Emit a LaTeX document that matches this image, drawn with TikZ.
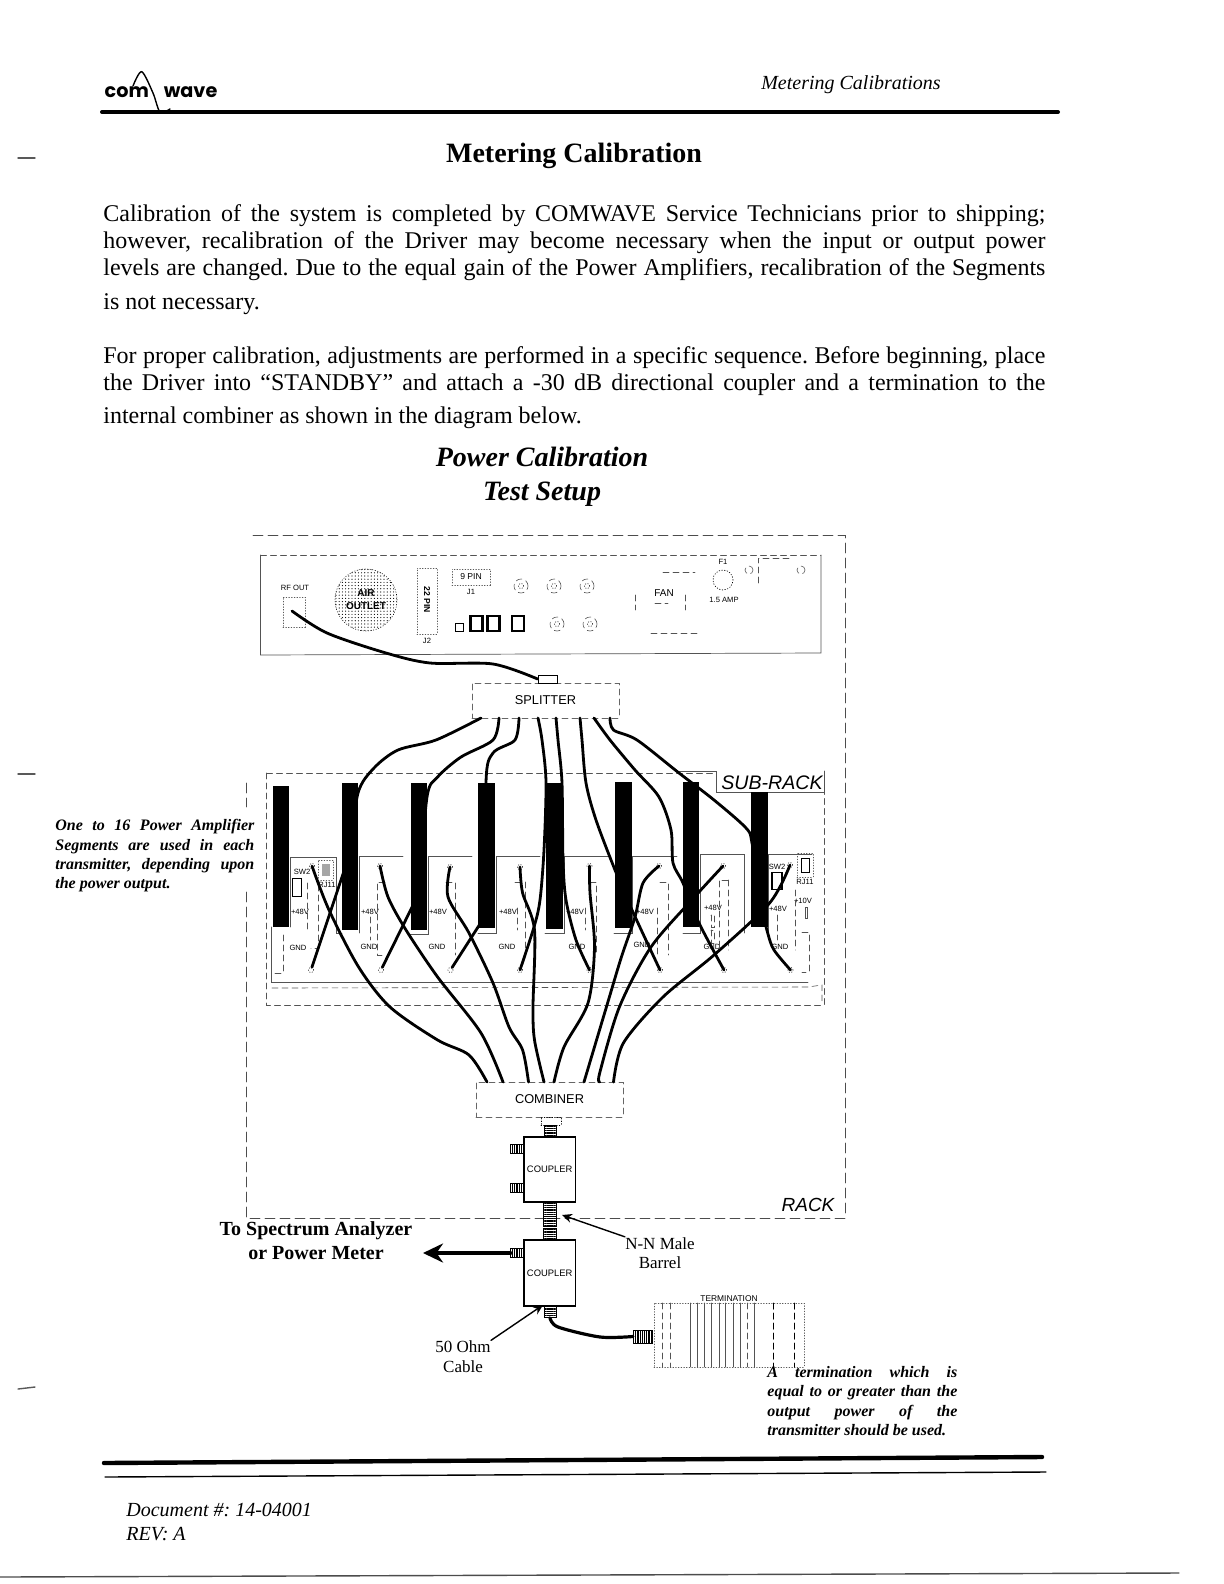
\documentclass[tikz,border=0pt]{standalone}
\usepackage{fontspec}
\setmainfont{Liberation Serif}
\setsansfont{Liberation Sans}
\newfontfamily\logofont{Poppins}
\usepackage{tikz}
\usetikzlibrary{arrows.meta,patterns.meta}
\usepackage{xcolor}
\newcommand{\fullline}[1]{\hbox to 471pt{#1}}
\newcommand{\noteline}[2]{\hbox to #1{#2}}
\frenchspacing

\begin{document}
\begin{tikzpicture}[x=0.5pt,y=-0.5pt,>={Stealth[length=5pt,width=4.5pt]},line cap=round,
  bodyline/.style={anchor=base west,inner sep=0pt,font=\fontsize{12}{14}\selectfont},
  notetext/.style={anchor=north west,inner sep=0pt,align=left,font=\fontsize{8}{9.7}\selectfont\bfseries\itshape},
  callout/.style={inner sep=0pt,align=center,font=\fontsize{8.5}{9.8}\selectfont},
  panelfont/.style={inner sep=0pt,font=\sffamily\fontsize{3.8}{4.5}\selectfont},
  unitbox/.style={draw,gray!80!black,densely dashed,line width=0.35pt,text=black,inner sep=0pt,font=\sffamily\fontsize{6.4}{7}\selectfont},
  couplerbox/.style={draw,line width=0.7pt,inner sep=0pt,minimum width=25.7pt,font=\sffamily\fontsize{4.7}{5}\selectfont},
  fitting/.style={draw,line width=0.4pt,inner sep=0pt,pattern={Lines[angle=0,distance=1.1pt,line width=0.55pt]}},
  sidefitting/.style={draw,line width=0.4pt,inner sep=0pt,minimum width=6.7pt,minimum height=4.5pt,pattern={Lines[angle=90,distance=1.1pt,line width=0.55pt]}},
  slotbar/.style={fill=black,inner sep=0pt},
  lug/.style={circle,draw,densely dotted,line width=0.3pt,fill=white,inner sep=0pt,minimum size=2.6pt},
  cable/.style={line width=1.4pt},
  jack/.style={draw,fill=white,line width=1.1pt,inner sep=0pt,minimum width=6pt,minimum height=7.5pt},
  bnc/.style={circle,draw,gray!70!black,densely dashed,line width=0.3pt,inner sep=0pt,minimum size=7pt},
  dimbox/.style={draw,gray!70!black,densely dotted,line width=0.35pt,inner sep=0pt,text=black},
  rackline/.style={gray!60!black,line width=0.4pt,dash pattern=on 5pt off 2.5pt},
  subline/.style={gray!65!black,line width=0.35pt},
  faintline/.style={gray!65!black,line width=0.3pt,densely dashed}]
\useasboundingbox (0,0) rectangle (1224,1584);

\node[inner sep=0pt,font=\logofont\bfseries\fontsize{9.6}{11}\selectfont] (logo) at (161,92) {com\hspace{7.5pt}wave};
\draw[line width=0.7pt] plot[smooth] coordinates {(133,86) (141.7,71.7) (153,93) (160,112) (170,109)};
\draw[line width=2pt] (102,112) -- (1058,112);
\node[inner sep=0pt,font=\fontsize{10}{12}\selectfont\itshape] (runhead) at (851,85) {Metering Calibrations};
\node[inner sep=0pt,font=\fontsize{14}{16}\selectfont\bfseries] (title) at (574,156) {Metering Calibration};

\node[bodyline] (introa) at (103,221) {\fullline{Calibration of the system is completed by COMWAVE Service Technicians prior to shipping;}};
\node[bodyline] (introb) at (103,248) {\fullline{however, recalibration of the Driver may become necessary when the input or output power}};
\node[bodyline] (introc) at (103,275) {\fullline{levels are changed. Due to the equal gain of the Power Amplifiers, recalibration of the Segments}};
\node[bodyline] (introd) at (103,309) {is not necessary.};
\node[bodyline] (propera) at (103,363) {\fullline{For proper calibration, adjustments are performed in a specific sequence. Before beginning, place}};
\node[bodyline] (properb) at (103,390) {\fullline{the Driver into ``STANDBY'' and attach a -30 dB directional coupler and a termination to the}};
\node[bodyline] (properc) at (103,423) {internal combiner as shown in the diagram below.};

\node[inner sep=0pt,font=\fontsize{14}{16}\selectfont\bfseries\itshape] (headpower) at (542,457) {Power Calibration};
\node[inner sep=0pt,font=\fontsize{14}{16}\selectfont\bfseries\itshape] (headtest) at (542,494) {Test Setup};

\draw[rackline] (246,892) -- (246,1218) -- (845,1218) -- (845,535) -- (249,535);
\draw[rackline] (246,783) -- (246,807);
\node[inner sep=0pt,font=\sffamily\itshape\fontsize{9.5}{11}\selectfont] (racklabel) at (808,1205) {RACK};

\draw[subline] (260.5,555) -- (260.5,655) -- (821,653) -- (821,555);
\draw[faintline] (260.5,555) -- (821,555);
\node[panelfont] (rfout) at (295,588) {RF OUT};
\node[dimbox,minimum width=11pt,minimum height=15pt] (rfbox) at (294,612) {};
\node[circle,draw,line width=0.3pt,densely dotted,pattern={Dots[distance=1.6pt,radius=0.3pt]},minimum size=31pt,inner sep=0pt,align=center,font=\sffamily\bfseries\fontsize{5}{6.5}\selectfont] (outlet) at (366,600) {AIR\\OUTLET};
\node[dimbox,minimum width=10pt,minimum height=33pt] (pinstrip) at (427,601) {};
\node[rotate=-90,inner sep=0pt,font=\sffamily\bfseries\fontsize{4.3}{5}\selectfont] (pinstriptext) at (427,600) {22 PIN};
\node[panelfont] (jtwo) at (427,641) {J2};
\node[dimbox,minimum width=19pt,minimum height=8pt,font=\sffamily\fontsize{4.3}{5}\selectfont] (ninepin) at (471,577) {9 PIN};
\node[panelfont] (jone) at (471,592) {J1};
\node[bnc] (bnca) at (521,586) {};
\node[lug] (bncadot) at (521,586) {};
\node[bnc] (bncb) at (554,586) {};
\node[lug] (bncbdot) at (554,586) {};
\node[bnc] (bncc) at (587,586) {};
\node[lug] (bnccdot) at (587,586) {};
\node[bnc] (bncd) at (557,624) {};
\node[lug] (bncddot) at (557,624) {};
\node[bnc] (bnce) at (590,624) {};
\node[lug] (bncedot) at (590,624) {};
\node[draw,line width=0.4pt,minimum size=4pt,inner sep=0pt] (lamp) at (459.5,627.5) {};
\node[jack] (jacka) at (476.5,623.5) {};
\node[jack] (jackb) at (493.5,623.5) {};
\node[jack] (jackc) at (518,623.5) {};
\node[inner sep=0pt,font=\sffamily\fontsize{5}{6}\selectfont] (fan) at (664,593) {FAN};
\draw[faintline] (663,572) -- (695,572);
\draw[faintline] (651,633) -- (697,633);
\draw[faintline] (635,595) -- (635,610);
\draw[faintline] (685,595) -- (685,610);
\draw[faintline] (655,603) -- (668,603);
\node[panelfont] (fuse) at (723,562) {F1};
\node[circle,draw,densely dotted,line width=0.35pt,minimum size=10pt,inner sep=0pt] (fuseholder) at (723,580) {};
\node[panelfont] (fuseamp) at (724,600) {1.5 AMP};
\draw[faintline] (758,583) -- (758,558) -- (791,558);
\node[bnc,minimum size=4pt] (mainsa) at (749,570) {};
\node[bnc,minimum size=4pt] (mainsb) at (801,570) {};

\node[unitbox,minimum width=73.5pt,minimum height=17.5pt] (splitter) at (545.5,700.5) {SPLITTER};
\node[draw,line width=0.35pt,minimum width=9.5pt,minimum height=4pt,inner sep=0pt] (splitin) at (547.5,679) {};
\coordinate (rfend) at (292,611);
\draw[cable] plot[smooth] coordinates {(rfend) (327,633) (386,653) (430,663) (493,664) (splitin.west)};

\draw[faintline] (266.5,773) -- (266.5,1005) -- (824,1005) -- (824,792);
\draw[faintline] (266.5,773) -- (716,773);
\draw[subline] (679,771) -- (716,771) -- (716,792) -- (824,792) -- (824,771);
\node[inner sep=0pt,font=\sffamily\itshape\fontsize{9.8}{11}\selectfont] (subrack) at (772,783) {SUB-RACK};
\draw[subline] (271,927) -- (271,982) -- (808,982);
\draw[faintline] (272,988) -- (808,987) -- (822,985) -- (822,1001);
\draw[subline] (290,927) -- (290,857) -- (336,857) -- (336,933) -- (342,933);
\draw[subline] (359,933) -- (359,856) -- (403,856);
\draw[subline] (410,934) -- (428,934) -- (428,856) -- (472,856);
\draw[subline] (478,933) -- (496,933) -- (496,856) -- (540,856);
\draw[subline] (545,933) -- (564,933) -- (564,856) -- (609,856);
\draw[subline] (614,933) -- (632,933) -- (632,856) -- (677,856);
\draw[subline] (683,933) -- (700,933) -- (700,854) -- (744,854) -- (744,933);
\draw[subline] (768,933) -- (768,854) -- (812,854);

\node[panelfont] (swone) at (302,872) {SW2};
\node[dimbox,minimum width=7.5pt,minimum height=10pt] (rjone) at (325.5,870) {};
\node[fill=gray!70,minimum width=4pt,minimum height=6pt,inner sep=0pt] (rjonecore) at (325.5,870) {};
\node[panelfont] (rjonetext) at (327,885) {RJ11};
\node[draw,line width=0.9pt,fill=white,minimum width=4.5pt,minimum height=9pt,inner sep=0pt] (dipone) at (297,887.5) {};
\node[panelfont] (vone) at (300,912) {+48V};
\node[panelfont] (gndone) at (298,948) {GND};
\node[panelfont] (vtwo) at (370,912) {+48V};
\node[panelfont] (gndtwo) at (369,947) {GND};
\node[panelfont] (vthree) at (438,912) {+48V};
\node[panelfont] (gndthree) at (437,947) {GND};
\node[panelfont] (vfour) at (508,912) {+48V};
\node[panelfont] (gndfour) at (507,947) {GND};
\node[panelfont] (vfive) at (575,912) {+48V};
\node[panelfont] (gndfive) at (577,947) {GND};
\node[panelfont] (vsix) at (645,912) {+48V};
\node[panelfont] (gndsix) at (642,945) {GND};
\node[panelfont] (vseven) at (713,908) {+48V};
\node[panelfont] (gndseven) at (712,947) {GND};
\node[panelfont] (veight) at (778,909) {+48V};
\node[panelfont] (gndeight) at (780,947) {GND};
\node[panelfont] (sweight) at (777,867) {SW2};
\node[dimbox,minimum width=8pt,minimum height=12pt] (rjeight) at (805,865) {};
\node[draw,line width=0.3pt,minimum width=4pt,minimum height=7pt,inner sep=0pt] (rjeightcore) at (805,865) {};
\node[panelfont] (rjeighttext) at (805,882) {RJ11};
\node[draw,line width=0.9pt,fill=white,minimum width=5pt,minimum height=8.5pt,inner sep=0pt] (dipeight) at (777,881) {};
\node[panelfont] (plusten) at (803,901) {+10V};
\draw[faintline] (283,935) -- (283,973) -- (275,973);
\draw[faintline] (307,883) -- (307,930);
\draw[faintline] (318,885) -- (318,948) -- (311,948);
\draw[faintline] (370,917) -- (370,940);
\draw[faintline] (385,882) -- (377,882) -- (377,955) -- (385,955);
\draw[faintline] (446,882) -- (455,882) -- (455,955);
\draw[faintline] (517,908) -- (517,930);
\draw[faintline] (515,882) -- (525,882) -- (525,955);
\draw[faintline] (585,908) -- (585,930);
\draw[faintline] (590,882) -- (596,882) -- (596,955);
\draw[faintline] (657,908) -- (657,955);
\draw[faintline] (660,882) -- (668,882) -- (668,955);
\draw[faintline] (711,915) rectangle (714,927);
\draw[faintline] (711,930) rectangle (714,943);
\draw[faintline] (728,880) -- (719,880) -- (719,950);
\draw[faintline] (728,880) -- (728,950);
\draw[faintline] (777,915) -- (777,940);
\draw[faintline] (795,890) -- (795,950);
\draw[subline] (805,907) rectangle (807,918);
\draw[faintline] (802,932) -- (809,932) -- (809,972) -- (802,972);

\node[lug] (topa) at (312,866) {};
\node[lug] (topb) at (380,866) {};
\node[lug] (topc) at (450,867) {};
\node[lug] (topd) at (520,867) {};
\node[lug] (tope) at (589.5,866) {};
\node[lug] (topf) at (659,866) {};
\node[lug] (topg) at (723,866) {};
\node[lug] (toph) at (790,865) {};
\node[lug] (lowa) at (311,970) {};
\node[lug] (lowb) at (381,970) {};
\node[lug] (lowc) at (450.5,970) {};
\node[lug] (lowd) at (520,970) {};
\node[lug] (lowe) at (589.5,970) {};
\node[lug] (lowf) at (660,970) {};
\node[lug] (lowg) at (724,970) {};
\node[lug] (lowh) at (790.5,970) {};

\node[unitbox,minimum width=73.5pt,minimum height=17.5pt] (combiner) at (549.5,1099.5) {COMBINER};

\coordinate (spa) at (481,718);
\coordinate (spb) at (499,718);
\coordinate (spc) at (519,718);
\coordinate (spd) at (538,718);
\coordinate (spe) at (556,718);
\coordinate (spf) at (580,718);
\coordinate (spg) at (594,718);
\coordinate (sph) at (610,718);
\coordinate (cba) at (487,1082);
\coordinate (cbb) at (503,1082);
\coordinate (cbc) at (528.5,1082);
\coordinate (cbd) at (544,1082);
\coordinate (cbe) at (554,1082);
\coordinate (cbf) at (584,1082);
\coordinate (cbg) at (599.7,1082);
\coordinate (cbh) at (613.5,1082);
\coordinate (exa) at (350,853);
\coordinate (exb) at (419,893);
\coordinate (exc) at (487,913);
\draw[cable] plot[smooth] coordinates {(spa) (436,740) (398,750) (374,768) (358,793) (exa)};
\draw[cable] plot[smooth] coordinates {(spb) (493,740) (461,757) (437.6,777) (427,797) (exb)};
\draw[cable] plot[smooth] coordinates {(spc) (515,740) (493,753) (486,782) (exc)};
\draw[cable] plot[smooth] coordinates {(spd) (542,740) (546,782) (544,850) (540,900) (534,927) (lowd)};
\draw[cable] plot[smooth] coordinates {(spe) (558,740) (562,783) (563,860) (566,900) (576,940) (lowe)};
\draw[cable] plot[smooth] coordinates {(spf) (582,740) (586,783) (596,820) (615,870) (632,910) (lowf)};
\draw[cable] plot[smooth] coordinates {(spg) (610,740) (635,770) (659,797) (671,830) (673,863) (683,883) (698.5,922) (lowg)};
\draw[cable] plot[smooth] coordinates {(sph) (613.5,730) (637,740) (679,773) (714,800) (746,828) (752,843) (760,900) (767.7,933) (774,950) (lowh)};
\draw[cable] (exa) -- (lowa);
\draw[cable] (exb) -- (lowb);
\draw[cable] (exc) -- (lowc);
\draw[cable] plot[smooth] coordinates {(topa) (329,910) (358.6,967) (390,1007) (437.6,1040) (469,1055) (cba)};
\draw[cable] plot[smooth] coordinates {(topb) (388,897) (406,930) (437.6,977) (481,1033) (cbb)};
\draw[cable] plot[smooth] coordinates {(topc) (448,897) (469,933) (493,983) (509,1027) (522.6,1050) (cbc)};
\draw[cable] plot[smooth] coordinates {(topd) (522.6,893) (534.5,930) (533,1007) (534.5,1040) (cbd)};
\draw[cable] plot[smooth] coordinates {(tope) (590,893) (594.5,947) (588,1003) (564,1047) (cbe)};
\draw[cable] plot[smooth] coordinates {(topf) (643,883) (635,917) (621.4,957) (607.6,1003) (cbf)};
\draw[cable] plot[smooth] coordinates {(topg) (694.5,897) (651,947) (619.4,1007) (599.7,1073) (cbg)};
\draw[cable] plot[smooth] coordinates {(toph) (769.6,903) (714,955) (663,997) (623.4,1043) (cbh)};

\node[slotbar,minimum width=8.3pt,minimum height=70.6pt] (bara) at (281,856.4) {};
\node[slotbar,minimum width=7.9pt,minimum height=73.5pt] (barb) at (350,856.5) {};
\node[slotbar,minimum width=8.1pt,minimum height=73.5pt] (barc) at (419,856.5) {};
\node[slotbar,minimum width=8.5pt,minimum height=72.7pt] (bard) at (486.5,855.4) {};
\node[slotbar,minimum width=8.7pt,minimum height=73pt] (bare) at (554.2,855.5) {};
\node[slotbar,minimum width=8.7pt,minimum height=73pt] (barf) at (623.3,855) {};
\node[slotbar,minimum width=7.9pt,minimum height=72.8pt] (barg) at (690.6,854.4) {};
\node[slotbar,minimum width=8.5pt,minimum height=67.5pt] (barh) at (759.2,859.2) {};

\node[draw,densely dotted,line width=0.3pt,minimum width=10pt,minimum height=4pt,inner sep=0pt] (throat) at (551,1121) {};
\node[fitting,minimum width=6pt,minimum height=6pt] (coupinlet) at (550,1131) {};
\node[couplerbox,minimum height=32.5pt] (coupa) at (549.7,1169.5) {COUPLER};
\node[sidefitting] (coupaside) at (517.3,1149) {};
\node[sidefitting] (coupasideb) at (517.3,1188) {};
\node[fitting,minimum width=6.5pt,minimum height=7pt] (barrela) at (550,1209) {};
\node[fitting,minimum width=6.5pt,minimum height=5pt] (barrelb) at (550,1221) {};
\node[fitting,minimum width=6.5pt,minimum height=6pt] (barrelc) at (550,1234) {};
\node[couplerbox,minimum height=33pt] (coupb) at (549.7,1273) {COUPLER};
\node[sidefitting] (coupbside) at (517.3,1253) {};
\node[fitting,minimum width=6pt,minimum height=5.5pt] (coupoutlet) at (550,1312) {};
\coordinate (specend) at (423,1253);
\draw[-{Stealth[length=10pt,width=9.5pt]},line width=2.3pt] (coupbside.west) -- (specend);
\node[inner sep=0pt,align=center,font=\fontsize{10}{12}\selectfont\bfseries] (spectrum) at (316,1241) {To Spectrum Analyzer\\or Power Meter};

\node[callout] (barrelnote) at (660,1253) {N-N Male\\Barrel};
\coordinate (barreltip) at (562,1215);
\draw[->,line width=0.7pt] (barrelnote.north west) -- (barreltip);
\node[callout] (cablenote) at (463,1356.5) {50 Ohm\\Cable};
\coordinate (cabletip) at (543,1305);
\draw[->,line width=0.7pt] (cablenote.north east) -- (cabletip);

\node[dimbox,minimum width=75pt,minimum height=32pt] (termination) at (729,1335) {};
\node[inner sep=0pt,font=\sffamily\fontsize{4.2}{5}\selectfont] (termtext) at (729,1299) {TERMINATION};
\draw[faintline] (662,1303) -- (662,1367);
\draw[faintline] (670,1303) -- (670,1367);
\draw[subline] (690,1303) -- (690,1367);
\draw[subline] (697,1303) -- (697,1367);
\draw[subline] (704,1303) -- (704,1367);
\draw[subline] (711,1303) -- (711,1367);
\draw[subline] (719,1303) -- (719,1367);
\draw[subline] (725,1303) -- (725,1367);
\draw[subline] (733,1303) -- (733,1367);
\draw[subline] (740,1303) -- (740,1367);
\draw[faintline] (747,1303) -- (747,1367);
\draw[subline] (754,1303) -- (754,1367);
\draw[line width=0.5pt,densely dashed] (773,1303) -- (773,1367);
\draw[line width=0.5pt,densely dashed] (794,1303) -- (794,1367);
\node[fitting,pattern={Lines[angle=90,distance=1.1pt,line width=0.6pt]},minimum width=9.5pt,minimum height=6.5pt] (termfit) at (643,1336.5) {};
\draw[cable,line width=1.6pt] plot[smooth] coordinates {(coupoutlet.south) (558,1327) (600,1337) (termfit.west)};

\node[notetext] (leftnote) at (55,819) {\noteline{99.5pt}{One to 16 Power Amplifier}\\\noteline{99.5pt}{Segments are used in each}\\\noteline{99.5pt}{transmitter, depending upon}\\the power output.};
\node[notetext] (rightnote) at (767,1366) {\noteline{95pt}{A termination which is}\\\noteline{95pt}{equal to or greater than the}\\\noteline{95pt}{output power of the}\\transmitter should be used.};

\draw[line width=2.2pt] (104,1463) -- (1042,1457);
\draw[line width=0.7pt] (105,1477) -- (1046,1472);
\node[anchor=base west,inner sep=0pt,font=\fontsize{10}{12}\selectfont\itshape] (docnumber) at (126,1516) {Document \#: 14-04001};
\node[anchor=base west,inner sep=0pt,font=\fontsize{10}{12}\selectfont\itshape] (revision) at (126,1540) {REV: A};
\draw[line width=0.7pt,gray!60!black] (0,1577) -- (1179,1573);
\draw[line width=0.7pt,gray!70!black] (18,158) -- (35,158);
\draw[line width=0.7pt,gray!70!black] (18,774) -- (35,774);
\draw[line width=0.7pt,gray!70!black] (18,1389) -- (35,1387);
\end{tikzpicture}
\end{document}
